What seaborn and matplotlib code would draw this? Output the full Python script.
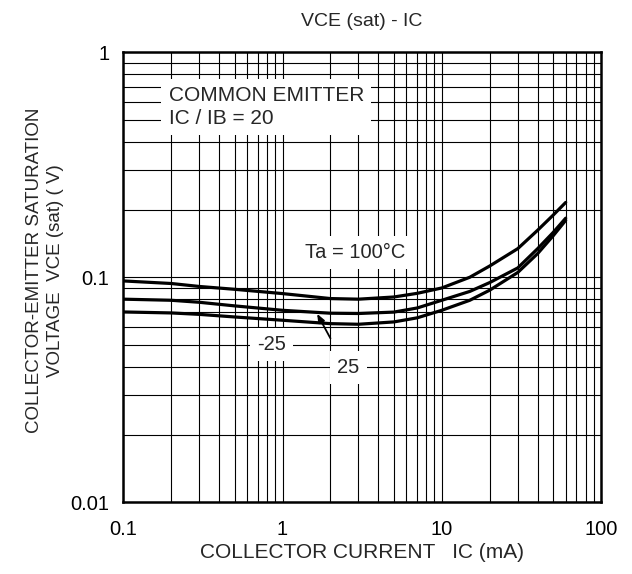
import matplotlib
matplotlib.use("Agg")
import matplotlib.pyplot as plt
import matplotlib.ticker as mticker
import numpy as np
import pandas as pd
import seaborn as sns

# Collector current (mA) at which VCE(sat) was read
ic_ma = [0.1, 0.2, 0.3, 0.5, 1, 2, 3, 5, 7, 10, 15, 20, 30, 40, 50, 60]

# VCE(sat) in volts for each ambient temperature
vce_100 = [0.0963, 0.0938, 0.0910, 0.0884, 0.0846, 0.0804, 0.0799, 0.0817,
           0.0848, 0.0896, 0.1000, 0.1122, 0.1340, 0.1618, 0.1887, 0.2150]
vce_25 = [0.0799, 0.0790, 0.0774, 0.0746, 0.0713, 0.0692, 0.0690, 0.0700,
          0.0730, 0.0790, 0.0865, 0.0947, 0.1100, 0.1340, 0.1580, 0.1830]
vce_m25 = [0.0701, 0.0694, 0.0684, 0.0666, 0.0644, 0.0622, 0.0618, 0.0633,
           0.0660, 0.0713, 0.0790, 0.0876, 0.1050, 0.1274, 0.1527, 0.1790]

temps = ["100", "25", "-25"]

x_ticks = [0.1, 1, 10, 100]
x_tick_labels = ["0.1", "1", "10", "100"]
y_ticks = [0.01, 0.1, 1]
y_tick_labels = ["0.01", "0.1", "1"]

df = pd.DataFrame({
    "ic": ic_ma * 3,
    "vce": vce_100 + vce_25 + vce_m25,
    "ta": [temps[0]] * len(ic_ma) + [temps[1]] * len(ic_ma) + [temps[2]] * len(ic_ma),
})

sns.set_style("white")
plt.rcParams["font.family"] = ["Liberation Sans", "DejaVu Sans"]

fig = plt.figure(figsize=(6.32, 5.74), dpi=100)
ax = fig.add_axes([0.195, 0.125, 0.756, 0.784])

sns.lineplot(data=df, x="ic", y="vce", hue="ta", palette=["black"] * 3,
             legend=False, sort=True, linewidth=2.3, ax=ax, zorder=2)

ax.set_xscale("log")
ax.set_yscale("log")
ax.set_xlim(0.1, 100)
ax.set_ylim(0.01, 1)

ax.xaxis.set_major_locator(mticker.FixedLocator(x_ticks))
ax.xaxis.set_major_formatter(mticker.FixedFormatter(x_tick_labels))
ax.yaxis.set_major_locator(mticker.FixedLocator(y_ticks))
ax.yaxis.set_major_formatter(mticker.FixedFormatter(y_tick_labels))
ax.xaxis.set_minor_locator(mticker.LogLocator(base=10, subs=np.arange(2, 10)))
ax.yaxis.set_minor_locator(mticker.LogLocator(base=10, subs=np.arange(2, 10)))
ax.xaxis.set_minor_formatter(mticker.NullFormatter())
ax.yaxis.set_minor_formatter(mticker.NullFormatter())

ax.grid(which="both", color="black", linewidth=0.8)
ax.tick_params(which="both", length=0, labelsize=14.5, colors="black")
ax.tick_params(axis="x", pad=13)
ax.tick_params(axis="y", pad=10)

for sp in ax.spines.values():
    sp.set_visible(True)
    sp.set_color("black")
    sp.set_linewidth(1.8)

ax.set_title("VCE (sat) - IC", fontsize=14, pad=19)
ax.set_xlabel("COLLECTOR CURRENT   IC (mA)", fontsize=15)
ax.xaxis.set_label_coords(0.5, -0.09)
ax.set_ylabel("COLLECTOR-EMITTER SATURATION\nVOLTAGE  VCE (sat) ( V)",
              fontsize=13.5, linespacing=1.3)
ax.yaxis.set_label_coords(-0.125, 0.515)

box = dict(facecolor="white", edgecolor="none", boxstyle="square,pad=0.35")

ax.text(0.095, 0.879, "COMMON EMITTER\nIC / IB = 20", transform=ax.transAxes,
        ha="left", va="center", fontsize=15, linespacing=1.25, bbox=box, zorder=3)
ax.text(2.86, 0.129, "Ta = 100°C", ha="center", va="center", fontsize=14.5,
        bbox=box, zorder=3)
ax.text(0.85, 0.0504, "-25", ha="center", va="center", fontsize=14.5,
        bbox=box, zorder=3)
ax.text(2.6, 0.0398, "25", ha="center", va="center", fontsize=14.5,
        bbox=box, zorder=3)
ax.annotate("", xy=(1.65, 0.0688), xytext=(2.0, 0.0535),
            arrowprops=dict(arrowstyle="-|>,head_length=0.5,head_width=0.2",
                            color="black", lw=1.3, shrinkA=0, shrinkB=0),
            zorder=4)

fig.savefig("out.png", dpi=100, facecolor="white")
